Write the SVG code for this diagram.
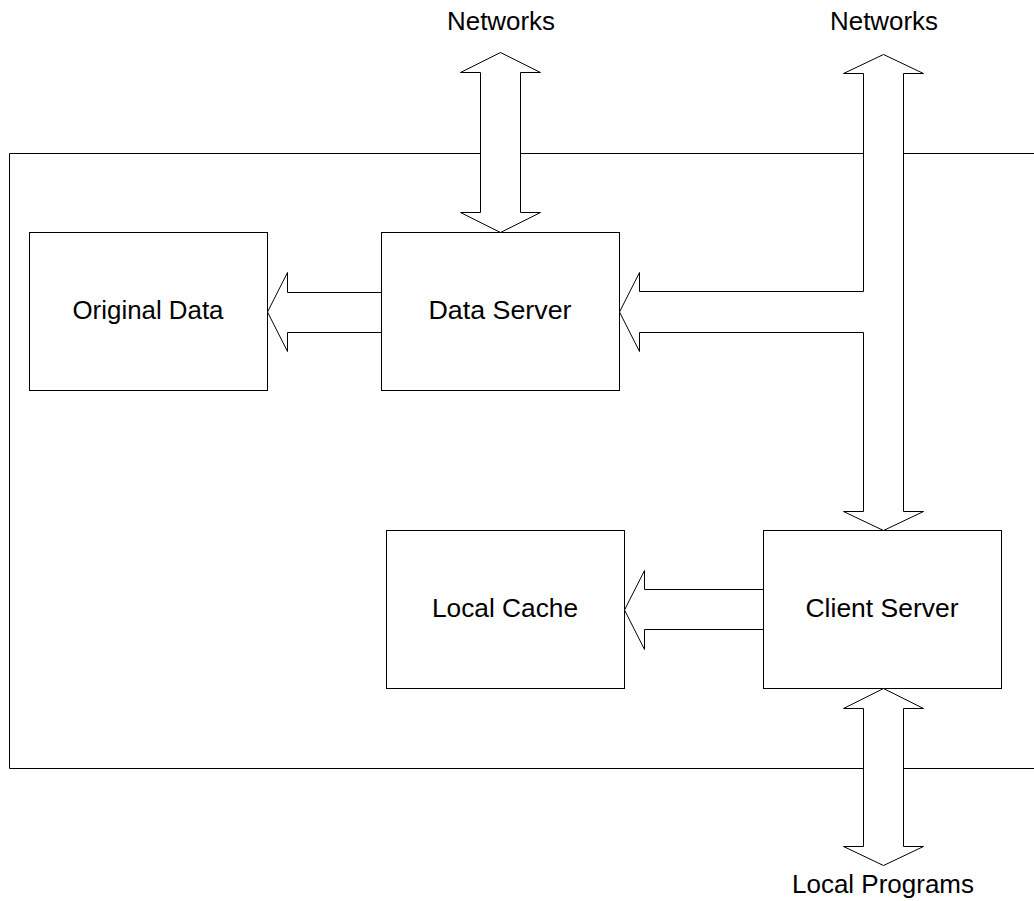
<svg xmlns="http://www.w3.org/2000/svg" width="1034" height="901" viewBox="0 0 1034 901">
<style>
.box{fill:#fff;stroke:#000;stroke-width:1}
.frame{fill:none;stroke:#000;stroke-width:1}
.arr{fill:#fff;stroke:#000;stroke-width:1;stroke-linejoin:miter}
text{font-family:"Liberation Sans",Arial,sans-serif;font-size:25px;fill:#000;text-anchor:middle}
</style>
<rect width="1034" height="901" fill="#fff"/>
<g id="frame"><path class="frame" d="M1040,153.5 H9.5 V768.5 H1040"/></g>
<g id="original-data"><rect class="box" x="29.5" y="232.5" width="238" height="158"/><text x="148" y="319" textLength="151" lengthAdjust="spacingAndGlyphs">Original Data</text></g>
<g id="data-server"><rect class="box" x="381.5" y="232.5" width="238" height="158"/><text x="500" y="319" textLength="143" lengthAdjust="spacingAndGlyphs">Data Server</text></g>
<g id="local-cache"><rect class="box" x="386.5" y="530.5" width="238" height="158"/><text x="505" y="617" textLength="146" lengthAdjust="spacingAndGlyphs">Local Cache</text></g>
<g id="client-server"><rect class="box" x="763.5" y="530.5" width="238" height="158"/><text x="882" y="617" textLength="153" lengthAdjust="spacingAndGlyphs">Client Server</text></g>
<g id="labels">
<text x="501" y="30" textLength="108" lengthAdjust="spacingAndGlyphs">Networks</text>
<text x="884" y="30" textLength="108" lengthAdjust="spacingAndGlyphs">Networks</text>
<text x="883" y="893" textLength="182" lengthAdjust="spacingAndGlyphs">Local Programs</text>
</g>
<g id="connectors">
<path class="arr" d="M500.5,52.5 L540.5,72.5 H520.5 V212.5 H540.5 L500.5,232.5 L460.5,212.5 H480.5 V72.5 H460.5 Z"/>
<path class="arr" d="M883.5,54.5 L923.5,73.5 H903.5 V511.5 H923.5 L883.5,530.5 L843.5,511.5 H863.5 V332.5 H639.5 V351.5 L619.5,312 L639.5,272.5 V291.5 H863.5 V73.5 H843.5 Z"/>
<path class="arr" d="M267.5,312 L287.5,272.5 V292.5 H381.5 V332.5 H287.5 V351.5 Z"/>
<path class="arr" d="M624.5,610 L644.5,570.5 V589.5 H763.5 V629.5 H644.5 V649.5 Z"/>
<path class="arr" d="M883.5,688.5 L923.5,708.5 H903.5 V846.5 H923.5 L883.5,865.5 L843.5,846.5 H863.5 V708.5 H843.5 Z"/>
</g>
</svg>
